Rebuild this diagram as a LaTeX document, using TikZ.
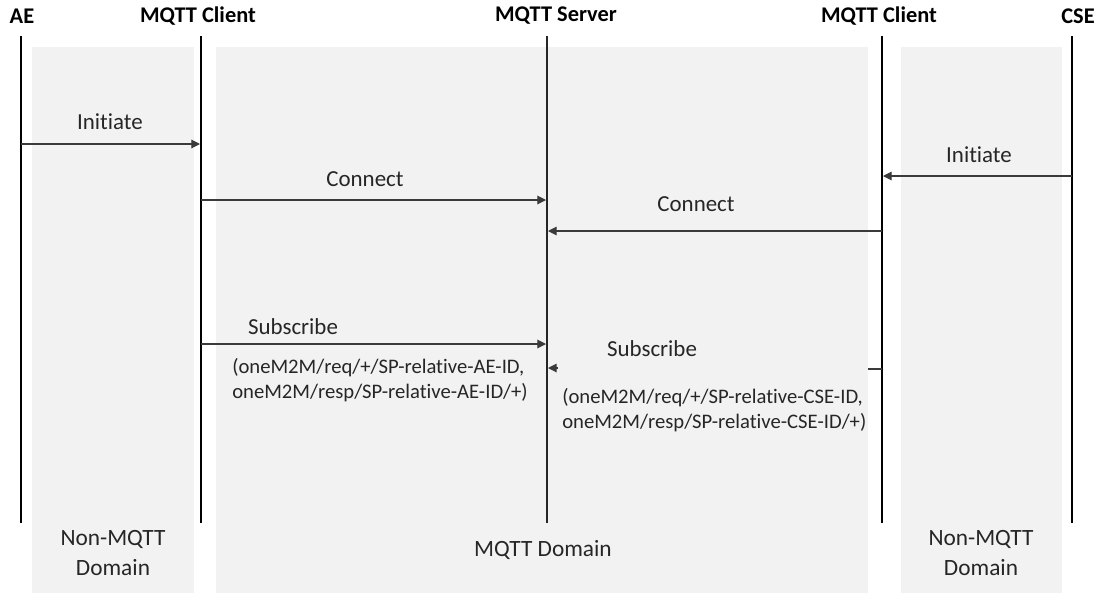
\documentclass[tikz,border=0pt]{standalone}
\usepackage{fontspec}
\setmainfont{Carlito}[Ligatures={NoCommon}]
\usetikzlibrary{arrows.meta}
\definecolor{boxgray}{HTML}{F2F2F2}
\definecolor{msgline}{HTML}{3A3A3A}
\begin{document}
\begin{tikzpicture}[x={(0.75pt,0)},y={(0,-0.75pt)},
  domainbox/.style={fill=boxgray,draw=none},
  lifeline/.style={line width=2.2pt,black},
  serverline/.style={line width=1.1pt,black!85},
  msg/.style={line width=0.8pt,msgline,-{Triangle[length=6.5pt,width=6.5pt]}},
  stub/.style={line width=0.8pt,msgline},
  title/.style={font=\fontsize{16.8}{19}\selectfont\bfseries,inner sep=0pt,text=black},
  lbl/.style={font=\fontsize{17.2}{19}\selectfont,inner sep=0pt,text=black!85},
  params/.style={font=\fontsize{15.5}{18}\selectfont,inner sep=0pt,text=black!85,align=left},
  dom/.style={font=\fontsize{17.5}{21.8}\selectfont,inner sep=0pt,text=black!85,align=center}]
\useasboundingbox (0,0) rectangle (1100,594);
% domain boxes
\path[domainbox] (32,47) rectangle (194,593);
\path[domainbox] (216,47) rectangle (868,593);
\path[domainbox] (901,47) rectangle (1062,593);
% titles
\node[title] (tae) at (22,16) {AE};
\node[title] (tc1) at (198,16) {MQTT Client};
\node[title] (tsrv) at (556,16) {MQTT Server};
\node[title] (tc2) at (879,16) {MQTT Client};
\node[title] (tcse) at (1078,16) {CSE};
% lifelines
\coordinate (aeT) at (21,36);   \coordinate (aeB) at (21,523);
\coordinate (c1T) at (201,36);  \coordinate (c1B) at (201,523);
\coordinate (sT) at (547,36);   \coordinate (sB) at (547,523);
\coordinate (c2T) at (882,36);  \coordinate (c2B) at (882,523);
\coordinate (cseT) at (1072,36);\coordinate (cseB) at (1072,523);
\draw[lifeline] (aeT) -- (aeB);
\draw[lifeline] (c1T) -- (c1B);
\draw[serverline] (sT) -- (sB);
\draw[lifeline] (c2T) -- (c2B);
\draw[lifeline] (cseT) -- (cseB);
% message endpoints
\coordinate (m1a) at (21,144);   \coordinate (m1b) at (200,144);
\coordinate (m2a) at (201,200);  \coordinate (m2b) at (546,200);
\coordinate (m3a) at (1072,176); \coordinate (m3b) at (883,176);
\coordinate (m4a) at (882,231);  \coordinate (m4b) at (548,231);
\coordinate (m5a) at (201,344);  \coordinate (m5b) at (546,344);
\coordinate (m6a) at (882,369);  \coordinate (m6s) at (868,369);
\coordinate (m6t) at (558,368);  \coordinate (m6b) at (548,368);
% messages
\draw[msg] (m1a) -- (m1b);
\draw[msg] (m2a) -- (m2b);
\draw[msg] (m3a) -- (m3b);
\draw[msg] (m4a) -- (m4b);
\draw[msg] (m5a) -- (m5b);
\draw[stub] (m6a) -- (m6s);
\draw[msg] (m6t) -- (m6b);
% labels
\node[lbl] (l1) at (110,122) {Initiate};
\node[lbl] (l2) at (365,179) {Connect};
\node[lbl] (l3) at (979,155) {Initiate};
\node[lbl] (l4) at (696,204) {Connect};
\node[lbl] (l5) at (293,327) {Subscribe};
\node[lbl] (l6) at (652,349) {Subscribe};
\node[params,anchor=west] (p1a) at (232,368) {(oneM2M/req/+/SP-relative-AE-ID,};
\node[params,anchor=west] (p1b) at (232,393) {oneM2M/resp/SP-relative-AE-ID/+)};
\node[params,anchor=west] (p2a) at (562,398) {(oneM2M/req/+/SP-relative-CSE-ID,};
\node[params,anchor=west] (p2b) at (562,423) {oneM2M/resp/SP-relative-CSE-ID/+)};
% domain labels
\node[dom] (d1) at (113,553) {Non-MQTT\\Domain};
\node[dom] (d2) at (543,550) {MQTT Domain};
\node[dom] (d3) at (981,553) {Non-MQTT\\Domain};
\end{tikzpicture}
\end{document}
